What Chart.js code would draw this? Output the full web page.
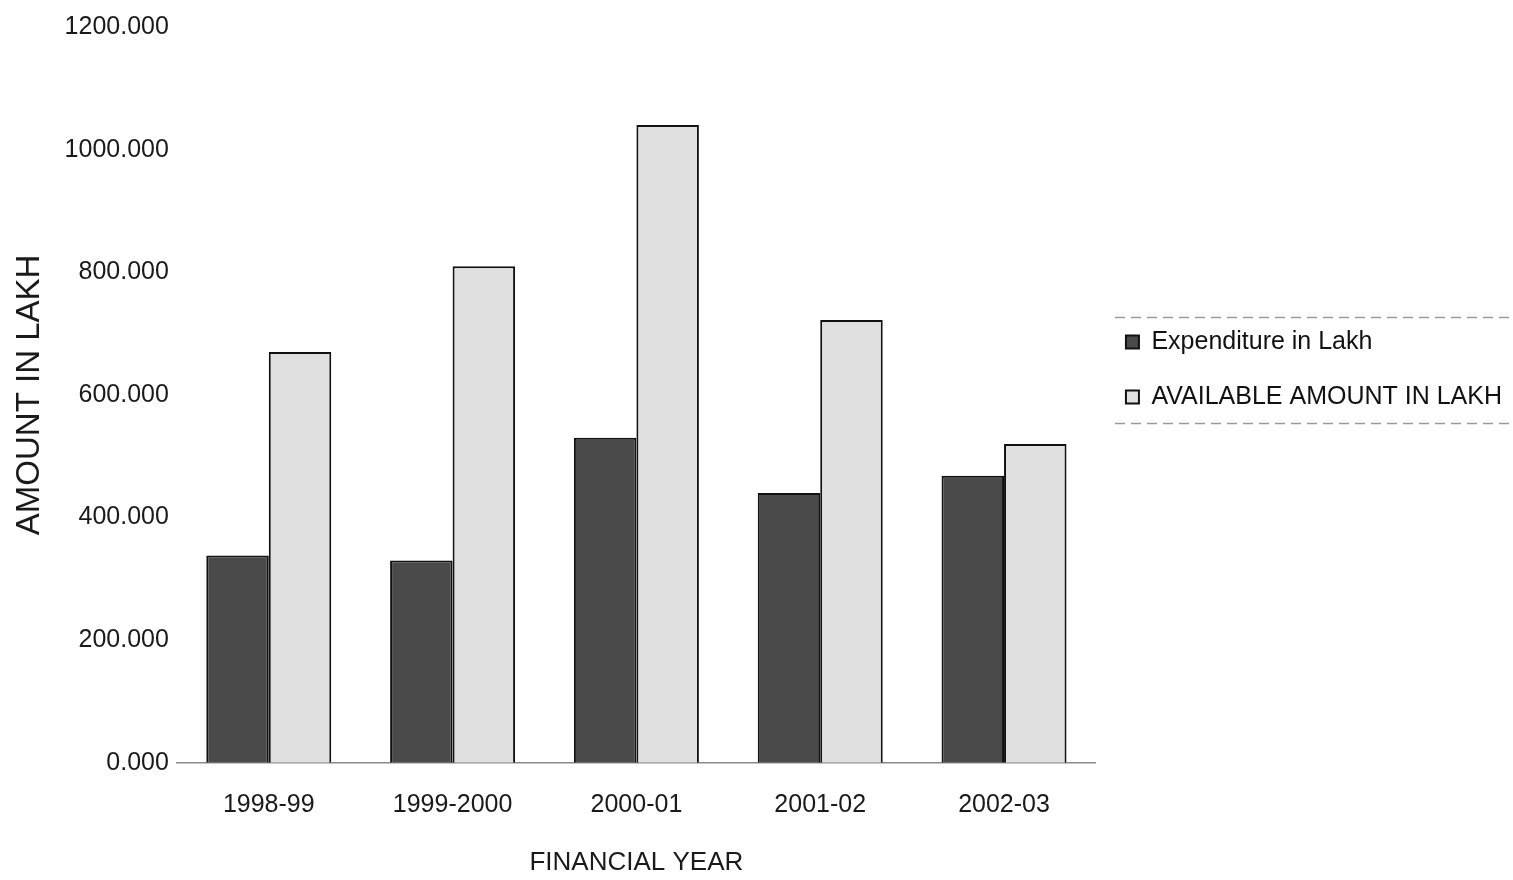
<!DOCTYPE html>
<html>
<head>
<meta charset="utf-8">
<title>Expenditure vs Available Amount</title>
<script src="https://cdn.jsdelivr.net/npm/chart.js@4.4.1/dist/chart.umd.min.js"></script>
<style>
  html, body { margin: 0; padding: 0; background: #fff; }
  #wrap { width: 1513px; height: 880px; }
</style>
</head>
<body>
<div id="wrap"><canvas id="amountChart" width="1513" height="880"></canvas></div>
<script>
// valores (em lakh)
var years = ['1998-99', '1999-2000', '2000-01', '2001-02', '2002-03'];
var expenditure = [338, 330, 530, 440, 468];
var available = [670, 810, 1040, 722, 520];
var yTicks = [0, 200, 400, 600, 800, 1000, 1200];

Chart.defaults.font.family = "'Liberation Sans', Arial, sans-serif";
Chart.defaults.color = '#1a1a1a';

// desloca a legenda para cima e desenha as linhas tracejadas
var legendExtras = {
    id: 'legendExtras',
    afterLayout: function (chart) {
        var lg = chart.legend;
        lg.top -= 83;
        lg.bottom -= 83;
    },
    afterDraw: function (chart) {
        var boxes = chart.legend.legendHitBoxes;
        if (!boxes || !boxes.length) return;
        var ctx = chart.ctx;
        var first = boxes[0], last = boxes[boxes.length - 1];
        ctx.save();
        ctx.strokeStyle = '#9a9a9a';
        ctx.lineWidth = 1.5;
        ctx.setLineDash([10, 6]);
        ctx.beginPath();
        ctx.moveTo(1115, first.top - 12);
        ctx.lineTo(1510, first.top - 12);
        ctx.moveTo(1115, last.top + last.height + 14);
        ctx.lineTo(1510, last.top + last.height + 14);
        ctx.stroke();
        ctx.restore();
    }
};

var ctx = document.getElementById('amountChart').getContext('2d');
var amountChart = new Chart(ctx, {
    type: 'bar',
    data: {
        labels: years,
        datasets: [{
            label: 'Expenditure in Lakh',
            data: expenditure,
            backgroundColor: '#4a4a4a',
            borderColor: '#111',
            borderWidth: 2
        }, {
            label: 'AVAILABLE AMOUNT IN LAKH',
            data: available,
            backgroundColor: '#e0e0e0',
            borderColor: '#111',
            borderWidth: 2
        }]
    },
    options: {
        responsive: false,
        animation: false,
        layout: {
            padding: { top: 27, left: 10, right: 1, bottom: 2 }
        },
        datasets: {
            bar: { categoryPercentage: 0.68, barPercentage: 1.0 }
        },
        plugins: {
            legend: {
                position: 'right',
                maxWidth: 480,
                labels: {
                    boxWidth: 13,
                    boxHeight: 13,
                    padding: 30,
                    color: '#111',
                    font: { size: 25 }
                }
            },
            tooltip: { enabled: false }
        },
        scales: {
            x: {
                grid: { display: false, drawTicks: false },
                border: { display: true, color: '#8a8a8a', width: 1.5, dash: [8, 5] },
                ticks: { padding: 27, font: { size: 25 }, color: '#1a1a1a' },
                title: {
                    display: true,
                    text: 'FINANCIAL YEAR',
                    font: { size: 26 },
                    color: '#1a1a1a',
                    padding: { top: 0, bottom: 0 }
                }
            },
            y: {
                min: 0,
                max: 1200,
                afterBuildTicks: function (axis) {
                    axis.ticks = yTicks.map(function (v) { return { value: v }; });
                },
                grid: { display: false, drawTicks: false },
                border: { display: false },
                ticks: {
                    padding: 8,
                    font: { size: 25 },
                    color: '#1a1a1a',
                    callback: function (v) { return Number(v).toFixed(3); }
                },
                title: {
                    display: true,
                    text: 'AMOUNT IN LAKH',
                    font: { size: 33 },
                    color: '#1a1a1a',
                    padding: { top: 0, bottom: 7 }
                }
            }
        }
    },
    plugins: [legendExtras]
});
</script>
</body>
</html>
